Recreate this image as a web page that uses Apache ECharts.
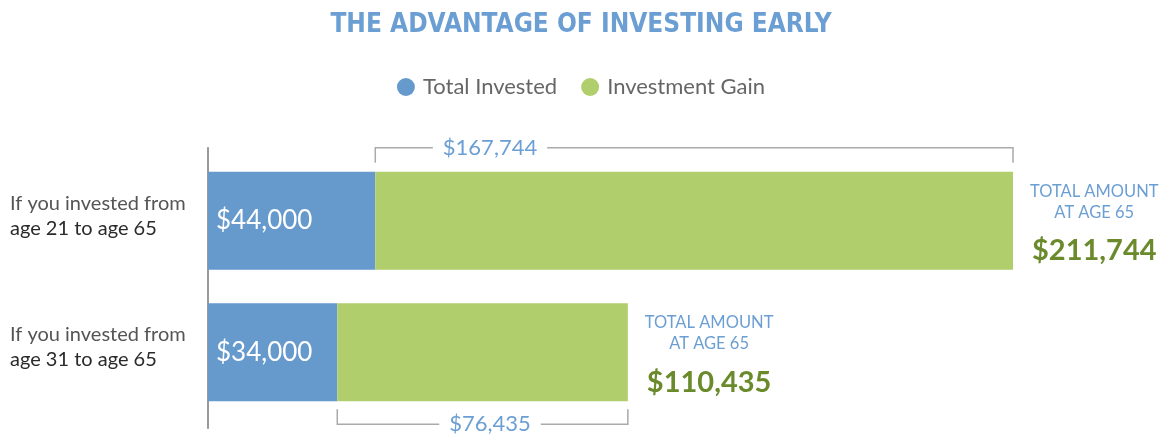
<!DOCTYPE html>
<html>
<head>
<meta charset="utf-8">
<script src="https://cdn.jsdelivr.net/npm/echarts@6/dist/echarts.min.js"></script>
<style>
  html, body { margin: 0; padding: 0; background: #fff; }
  #main { width: 1162px; height: 434px; }
</style>
</head>
<body>
<div id="main"></div>
<script>
// data
var categories = ['If you invested from\nage 21 to age 65', 'If you invested from\nage 31 to age 65'];
var invested = [44000, 34000];
var gain = [167744, 76435];
var bracketSide = ['top', 'bottom'];

var BLUE = '#6699cc';
var GREEN = '#b0ce6b';
var OLIVE = '#6b8a2c';
var TEXT_BLUE = '#6b9fd3';
var BAR_W = 98;
var FONT = 'Lato, "Open Sans", sans-serif';

function money(v) {
	return '$' + Number(v).toLocaleString('en-US');
}

var myChart = echarts.init(document.getElementById('main'));

var bracketData = invested.map(function (v, i) {
	return [v, v + gain[i], i];
});

var option = {
	backgroundColor: '#fff',
	animation: false,
	title: {
		text: 'THE ADVANTAGE OF INVESTING EARLY',
		left: 'center',
		top: 7,
		textStyle: {
			fontFamily: '"DejaVu Sans Condensed", "Liberation Sans Narrow", sans-serif',
			fontWeight: 'bold',
			fontSize: 26,
			color: TEXT_BLUE
		}
	},
	legend: {
		data: ['Total Invested', 'Investment Gain'],
		left: 'center',
		top: 71,
		icon: 'circle',
		itemWidth: 18,
		itemHeight: 18,
		itemGap: 24,
		textStyle: { fontFamily: FONT, fontSize: 22, color: '#666', padding: [0, 0, 0, 3] }
	},
	grid: [
		{ left: 208, right: 149, top: 155, bottom: 16 },
		{ left: 208, right: 149, top: 148, bottom: 6 }
	],
	xAxis: [
		{ type: 'value', gridIndex: 0, min: 0, max: 'dataMax', show: false },
		{ type: 'value', gridIndex: 1, show: false }
	],
	yAxis: [
		{
			type: 'category',
			gridIndex: 0,
			data: categories,
			inverse: true,
			axisLine: { show: false },
			axisTick: { show: false },
			axisLabel: {
				align: 'left',
				margin: 198,
				formatter: function (v) {
					var parts = v.split('\n');
					return '{a|' + parts[0] + '}\n{b|' + parts[1] + '}';
				},
				rich: {
					a: { fontFamily: FONT, fontSize: 20, color: '#555', lineHeight: 25 },
					b: { fontFamily: FONT, fontSize: 20, color: '#2a2a2a', lineHeight: 25 }
				},
				padding: [0, 0, 10, 0]
			}
		},
		{
			type: 'value',
			gridIndex: 1,
			axisLine: { show: true, lineStyle: { color: '#999', width: 2 } },
			axisTick: { show: false },
			axisLabel: { show: false },
			splitLine: { show: false }
		}
	],
	series: [
		{
			name: 'Total Invested',
			type: 'bar',
			stack: 'total',
			barWidth: BAR_W,
			itemStyle: { color: BLUE },
			label: {
				show: true,
				position: 'insideLeft',
				distance: 8,
				color: '#fff',
				fontFamily: FONT,
				fontSize: 26,
				formatter: function (p) { return money(p.value); }
			},
			data: invested
		},
		{
			name: 'Investment Gain',
			type: 'bar',
			stack: 'total',
			barWidth: BAR_W,
			itemStyle: { color: GREEN },
			label: {
				show: true,
				position: 'right',
				distance: 17,
				offset: [0, 9],
				formatter: function (p) {
					var i = p.dataIndex;
					return '{a|TOTAL AMOUNT}\n{a|AT AGE 65}\n{b|' + money(invested[i] + gain[i]) + '}';
				},
				rich: {
					a: { fontFamily: FONT, fontSize: 16.5, color: TEXT_BLUE, lineHeight: 21, align: 'center' },
					b: { fontFamily: FONT, fontSize: 29, fontWeight: 'bold', color: OLIVE, lineHeight: 56, align: 'center' }
				}
			},
			data: gain
		},
		{
			name: 'bracket',
			type: 'custom',
			clip: false,
			silent: true,
			encode: { x: [0, 1], y: 2 },
			renderItem: function (params, api) {
				var i = api.value(2);
				var p0 = api.coord([api.value(0), i]);
				var p1 = api.coord([api.value(1), i]);
				var half = BAR_W / 2;
				var top = bracketSide[i] === 'top';
				var yLine = top ? p0[1] - half - 24 : p0[1] + half + 23;
				var yTick = top ? p0[1] - half - 9 : p0[1] + half + 8;
				return {
					type: 'group',
					children: [{
						type: 'polyline',
						shape: { points: [[p0[0], yTick], [p0[0], yLine], [p1[0], yLine], [p1[0], yTick]] },
						style: { stroke: '#aaa', lineWidth: 1.5, fill: 'none' }
					}, {
						type: 'text',
						x: 490,
						y: yLine,
						style: {
							text: money(gain[i]),
							align: 'center',
							verticalAlign: 'middle',
							fill: TEXT_BLUE,
							fontFamily: FONT,
							fontSize: 22,
							backgroundColor: '#fff',
							padding: [2, 10]
						}
					}]
				};
			},
			data: bracketData
		}
	]
};

myChart.setOption(option);
</script>
</body>
</html>
